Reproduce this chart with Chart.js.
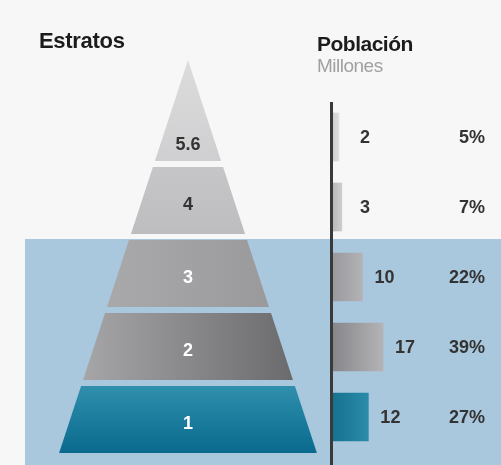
<!DOCTYPE html>
<html lang="es">
<head>
<meta charset="utf-8">
<title>Estratos y población</title>
<script src="https://cdn.jsdelivr.net/npm/chart.js@4.4.1/dist/chart.umd.min.js"></script>
<style>
  html, body { margin: 0; padding: 0; }
  body {
    width: 501px; height: 465px; position: relative; overflow: hidden;
    background: #f7f7f7;
    font-family: "Liberation Sans", Arial, Helvetica, sans-serif;
  }
  #band { position: absolute; left: 25px; top: 239px; right: 0; bottom: 0; background: #a9c8de; }
  canvas { position: absolute; left: 0; top: 0; }
  .head { position: absolute; white-space: nowrap; line-height: 22px; }
  #estratos { left: 39px; top: 30px; font-size: 22px; font-weight: bold; color: #1c1c1c; letter-spacing: -0.3px; }
  #poblacion { left: 317px; top: 33px; font-size: 21px; font-weight: bold; color: #1c1c1c; letter-spacing: -0.5px; }
  #millones { left: 317px; top: 55px; font-size: 19px; color: #a0a0a0; letter-spacing: -0.5px; }
</style>
</head>
<body>
<div id="band"></div>
<canvas id="pyramid" width="501" height="465"></canvas>
<canvas id="bars" width="501" height="465"></canvas>
<div class="head" id="estratos">Estratos</div>
<div class="head" id="poblacion">Población</div>
<div class="head" id="millones">Millones</div>

<script>
// strata, top of the pyramid first
const strata = ['5.6', '4', '3', '2', '1'];
// population per stratum, millions
const population = [2, 3, 10, 17, 12];
// share of total population, %
const share = [5, 7, 22, 39, 27];

/* pyramid shape (units = px above the base) */
const PYR_HEIGHT = 393;
const BAND_H = 67;
const BAND_GAP = 6;
const SLOPE = 0.328;

// [from, to, direction] per band
const bandColors = [
  ['#dcdcdd', '#cfcfd1', 'v'],
  ['#c6c6c8', '#bdbdbf', 'v'],
  ['#a9a9ac', '#9a9a9d', 'h'],
  ['#a6a6a8', '#6b6b6e', 'h'],
  ['#2f8fac', '#0a6a8e', 'v']
];
const bandText = ['#333', '#333', '#fff', '#fff', '#fff'];

// bars: darker on the left, lighter on the right
const barColors = [
  ['#cfcfd1', '#e2e2e4'],
  ['#b9b9bc', '#d0d0d2'],
  ['#9a9a9e', '#b4b4b7'],
  ['#87878b', '#b5b5b7'],
  ['#17728f', '#2b8cab']
];

const FONT = '"Liberation Sans", Arial, sans-serif';

function halfWidth(h){
    return (PYR_HEIGHT - h) * SLOPE;
}

function bandBottom(k){
    const level = strata.length - 1 - k;
    return level * (BAND_H + BAND_GAP);
}

function bandTop(k){
    return k === 0 ? PYR_HEIGHT : bandBottom(k) + BAND_H;
}

function bandFill(k){
    return function(context){
        const chart = context.chart;
        const c = bandColors[k];
        if(!chart.chartArea) return c[0];
        const xs = chart.scales.x, ys = chart.scales.y;
        const yb = bandBottom(k), yt = bandTop(k);
        let g;
        if(c[2] === 'h'){
            const hw = halfWidth(yb);
            g = chart.ctx.createLinearGradient(xs.getPixelForValue(-hw), 0, xs.getPixelForValue(hw), 0);
        } else {
            g = chart.ctx.createLinearGradient(0, ys.getPixelForValue(yt), 0, ys.getPixelForValue(yb));
        }
        g.addColorStop(0, c[0]);
        g.addColorStop(1, c[1]);
        return g;
    };
}

const pyramidSets = strata.map((name, k) => {
    const yb = bandBottom(k);
    const yt = bandTop(k);
    return {
        label: name,
        data: [
            {x: -halfWidth(yb), y: yb},
            {x: -halfWidth(yt), y: yt},
            {x: halfWidth(yt), y: yt},
            {x: halfWidth(yb), y: yb}
        ],
        showLine: true,
        pointRadius: 0,
        borderWidth: 0,
        borderColor: 'transparent',
        backgroundColor: bandFill(k),
        fill: {value: yb}
    };
});

/* stratum names inside each band */
const bandLabels = {
    id: 'bandLabels',
    afterDatasetsDraw(chart){
        const ctx = chart.ctx;
        const xs = chart.scales.x, ys = chart.scales.y;
        ctx.save();
        ctx.font = 'bold 18px ' + FONT;
        ctx.textAlign = 'center';
        ctx.textBaseline = 'middle';
        strata.forEach((name, k) => {
            const y = bandBottom(k) + (k === 0 ? 16 : 29);
            ctx.fillStyle = bandText[k];
            ctx.fillText(name, xs.getPixelForValue(0), ys.getPixelForValue(y));
        });
        ctx.restore();
    }
};

new Chart(document.getElementById('pyramid'), {
    type: 'scatter',
    data: { datasets: pyramidSets },
    options: {
        responsive: false,
        animation: false,
        layout: { padding: 0 },
        scales: {
            x: { type: 'linear', min: -188, max: 313, display: false },
            y: { type: 'linear', min: -12, max: 453, display: false }
        },
        plugins: { legend: {display: false}, tooltip: {enabled: false} }
    },
    plugins: [bandLabels]
});

function barFill(context){
    const chart = context.chart;
    const c = barColors[context.dataIndex];
    if(!chart.chartArea) return c[0];
    const xs = chart.scales.x;
    const x0 = xs.getPixelForValue(0);
    const x1 = xs.getPixelForValue(population[context.dataIndex]);
    const g = chart.ctx.createLinearGradient(x0, 0, x1 + 1, 0);
    g.addColorStop(0, c[0]);
    g.addColorStop(1, c[1]);
    return g;
}

/* vertical axis line, runs down to the bottom edge */
const axisLine = {
    id: 'axisLine',
    afterDatasetsDraw(chart){
        const ctx = chart.ctx;
        const x = chart.scales.x.getPixelForValue(0) - 1.5;
        ctx.save();
        ctx.strokeStyle = '#3a3a3a';
        ctx.lineWidth = 3;
        ctx.beginPath();
        ctx.moveTo(x, chart.chartArea.top);
        ctx.lineTo(x, chart.height);
        ctx.stroke();
        ctx.restore();
    }
};

/* millions next to the bar, share at the right edge */
const valueLabels = {
    id: 'valueLabels',
    afterDatasetsDraw(chart){
        const ctx = chart.ctx;
        const area = chart.chartArea;
        const meta = chart.getDatasetMeta(0);
        ctx.save();
        ctx.font = 'bold 18px ' + FONT;
        ctx.fillStyle = '#333';
        ctx.textBaseline = 'middle';
        meta.data.forEach((bar, i) => {
            ctx.textAlign = 'left';
            ctx.fillText(String(population[i]), Math.max(bar.x + 12, area.left + 27), bar.y + 1);
            ctx.textAlign = 'right';
            ctx.fillText(share[i] + '%', area.right - 16, bar.y + 1);
        });
        ctx.restore();
    }
};

new Chart(document.getElementById('bars'), {
    type: 'bar',
    data: {
        labels: strata,
        datasets: [{
            data: population,
            backgroundColor: barFill,
            borderWidth: 0,
            barThickness: 48
        }]
    },
    options: {
        indexAxis: 'y',
        responsive: false,
        animation: false,
        layout: { padding: {left: 333, top: 102, right: 0, bottom: 13} },
        scales: {
            x: { min: 0, max: 57, display: false },
            y: { display: false }
        },
        plugins: { legend: {display: false}, tooltip: {enabled: false} }
    },
    plugins: [axisLine, valueLabels]
});
</script>
</body>
</html>
